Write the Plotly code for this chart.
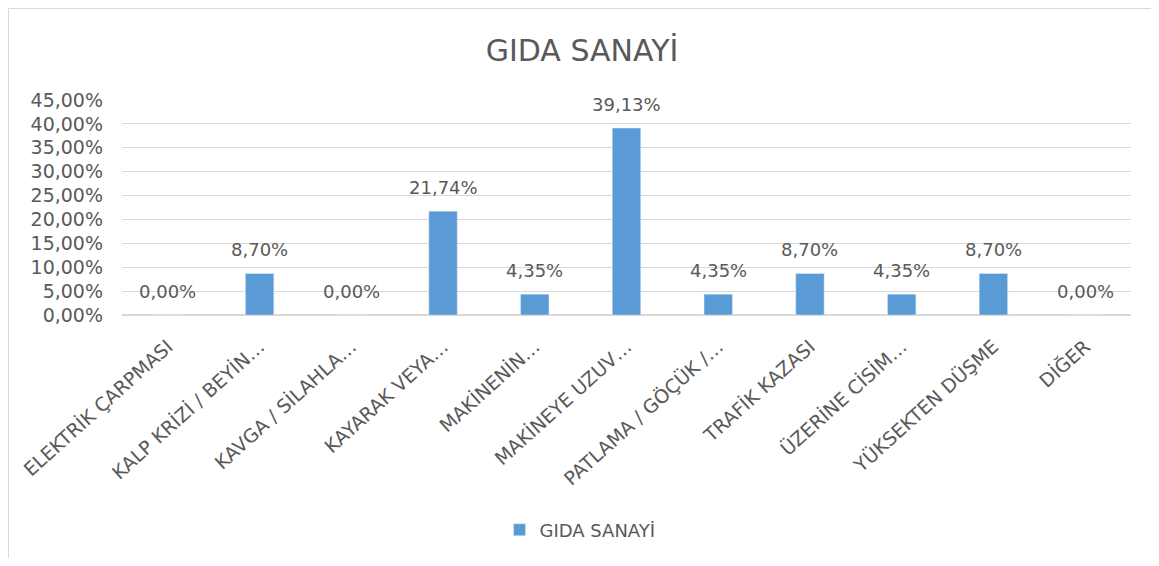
import plotly.graph_objects as go

categories = ["ELEKTRİK ÇARPMASI", "KALP KRİZİ / BEYİN…", "KAVGA / SİLAHLA…", "KAYARAK VEYA…",
              "MAKİNENİN…", "MAKİNEYE UZUV…", "PATLAMA / GÖÇÜK /…", "TRAFİK KAZASI",
              "ÜZERİNE CİSİM…", "YÜKSEKTEN DÜŞME", "DİĞER"]
values = [0.0, 0.0870, 0.0, 0.2174, 0.0435, 0.3913, 0.0435, 0.0870, 0.0435, 0.0870, 0.0]
series_name = "GIDA SANAYİ"
title_text = "GIDA SANAYİ"

FONT = "DejaVu Sans"
GREY = "#595959"
BLUE = "#5B9BD5"
GRID = "#D9D9D9"

# the page body has an 8px margin; the figure is sized to fit inside it
W, H = 1143, 550
L, R, T, B = 114, 20, 92, 243
pw = W - L - R
ph = H - T - B

fig = go.Figure()
fig.add_trace(go.Bar(x=categories, y=values, name=series_name, marker_color=BLUE,
                     showlegend=True))

annotations = []
for c, v in zip(categories, values):
    annotations.append(dict(x=c, y=v, xref="x", yref="y",
                            text=f"{v*100:.2f}%".replace(".", ","),
                            showarrow=False, yanchor="middle", yshift=24,
                            font=dict(family=FONT, size=18, color=GREY)))

fig.update_layout(
    width=W, height=H,
    margin=dict(l=L, r=R, t=T, b=B),
    paper_bgcolor="white", plot_bgcolor="white",
    separators=",.",
    bargap=0.69,
    title=dict(text=title_text, x=574 / W, xref="container", xanchor="center",
               y=1 - 42 / H, yref="container", yanchor="middle",
               font=dict(family=FONT, size=30, color=GREY)),
    xaxis=dict(tickangle=-42, tickfont=dict(family=FONT, size=19, color=GREY),
               showgrid=False, showline=False, ticks="", automargin=False,
               ticklabelstandoff=16),
    yaxis=dict(range=[0, 0.45], dtick=0.05, tickformat=".2%",
               tickfont=dict(family=FONT, size=19, color=GREY),
               gridcolor=GRID, gridwidth=1, zeroline=True, zerolinecolor=GRID,
               showline=False, ticks="", automargin=False, ticklabelstandoff=18),
    legend=dict(orientation="h", x=572 / W, xref="container", xanchor="center",
                y=1 - 522 / H, yref="container", yanchor="middle", itemwidth=30,
                font=dict(family=FONT, size=18, color=GREY)),
    annotations=annotations,
    shapes=[dict(type="rect", xref="paper", yref="paper",
                 x0=(0.5 - L) / pw, x1=(W + 10 - L) / pw,
                 y0=(T + ph - (H + 10)) / ph, y1=(T + ph - 0.5) / ph,
                 line=dict(color=GRID, width=1), fillcolor="rgba(0,0,0,0)", layer="below")],
)

fig.write_html("out.html")
